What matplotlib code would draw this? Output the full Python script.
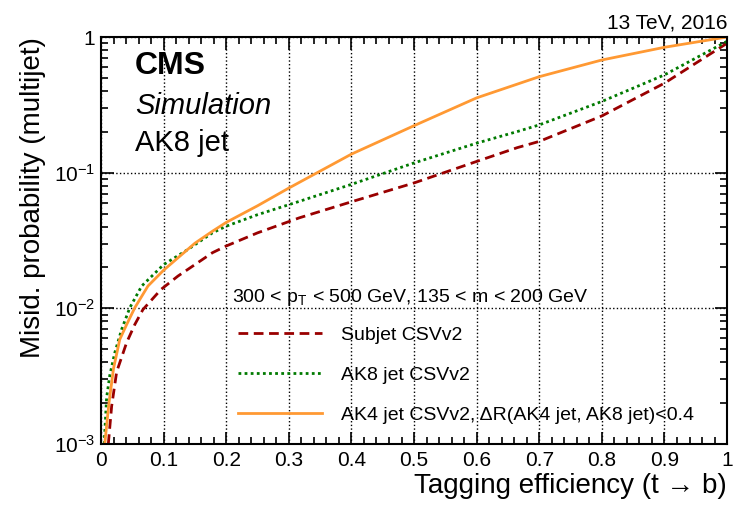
import matplotlib
matplotlib.use("Agg")
import matplotlib.pyplot as plt
from matplotlib.ticker import LogLocator, FixedFormatter, NullFormatter, FixedLocator, MultipleLocator

plt.rcParams['font.family'] = ['Liberation Sans', 'DejaVu Sans']
plt.rcParams['mathtext.fontset'] = 'custom'
plt.rcParams['mathtext.rm'] = 'Liberation Sans'
plt.rcParams['mathtext.it'] = 'Liberation Sans:italic'
plt.rcParams['mathtext.bf'] = 'Liberation Sans:bold'

# Subjet CSVv2
eff_subjet = [0.0117, 0.017, 0.025, 0.041, 0.054, 0.067, 0.096, 0.123, 0.15, 0.178, 0.2,
              0.25, 0.317, 0.4, 0.5, 0.6, 0.665, 0.7, 0.8, 0.9, 1.0]
mis_subjet = [0.001, 0.0019, 0.0034, 0.0056, 0.0076, 0.0098, 0.0138, 0.0173, 0.021, 0.0257, 0.0288,
              0.036, 0.0465, 0.061, 0.084, 0.121, 0.153, 0.17, 0.262, 0.457, 0.9]

# AK8 jet CSVv2
eff_ak8 = [0.005, 0.009, 0.014, 0.022, 0.033, 0.046, 0.065, 0.1, 0.139, 0.178, 0.2,
           0.25, 0.317, 0.4, 0.5, 0.6, 0.665, 0.7, 0.8, 0.9, 1.0]
mis_ak8 = [0.001, 0.0022, 0.0032, 0.0047, 0.007, 0.0101, 0.0146, 0.021, 0.0272, 0.036, 0.0403,
           0.049, 0.0615, 0.082, 0.118, 0.165, 0.201, 0.225, 0.335, 0.526, 0.93]

# AK4 jet CSVv2, dR(AK4 jet, AK8 jet)<0.4
eff_ak4 = [0.006, 0.0127, 0.02, 0.03, 0.041, 0.054, 0.075, 0.1, 0.15, 0.178, 0.2,
           0.25, 0.3, 0.4, 0.5, 0.6, 0.7, 0.8, 0.9, 1.0]
mis_ak4 = [0.001, 0.002, 0.0036, 0.0059, 0.0076, 0.0101, 0.0146, 0.0191, 0.0302, 0.037, 0.043,
           0.057, 0.077, 0.137, 0.222, 0.356, 0.51, 0.677, 0.84, 1.0]

labels = ["Subjet CSVv2", "AK8 jet CSVv2",
          "AK4 jet CSVv2, \u0394R(AK4 jet, AK8 jet)<0.4"]
x_ticks = [0, 0.1, 0.2, 0.3, 0.4, 0.5, 0.6, 0.7, 0.8, 0.9, 1.0]
x_ticklabels = ["0", "0.1", "0.2", "0.3", "0.4", "0.5", "0.6", "0.7", "0.8", "0.9", "1"]
y_ticks = [1e-3, 1e-2, 1e-1, 1]
y_ticklabels = ["$10^{-3}$", "$10^{-2}$", "$10^{-1}$", "1"]

fig = plt.figure(figsize=(7.34, 5.07), dpi=100)
ax = fig.add_axes([0.1376, 0.1243, 0.853, 0.8027])

ax.plot(eff_subjet, mis_subjet, color='#990000', lw=2, ls=(0, (3.5, 2)), label=labels[0])
ax.plot(eff_ak8, mis_ak8, color='#007a00', lw=2, ls=(0, (1, 1.2)), label=labels[1])
ax.plot(eff_ak4, mis_ak4, color='#ff9933', lw=2, ls='-', label=labels[2])

ax.set_xlim(0, 1)
ax.set_yscale('log')
ax.set_ylim(1e-3, 1)

ax.xaxis.set_major_locator(FixedLocator(x_ticks))
ax.xaxis.set_major_formatter(FixedFormatter(x_ticklabels))
ax.xaxis.set_minor_locator(MultipleLocator(0.02))
ax.yaxis.set_major_locator(FixedLocator(y_ticks))
ax.yaxis.set_major_formatter(FixedFormatter(y_ticklabels))
ax.yaxis.set_minor_locator(LogLocator(base=10, subs=range(2, 10)))
ax.yaxis.set_minor_formatter(NullFormatter())

ax.tick_params(which='both', direction='in', top=True, right=True, labelsize=15, width=1.2)
ax.tick_params(which='major', length=9)
ax.tick_params(which='minor', length=5)
ax.tick_params(axis='x', pad=5)
ax.tick_params(axis='y', pad=4)
for s in ax.spines.values():
    s.set_linewidth(1.5)

ax.grid(True, which='major', color='black', ls=':', lw=1)

ax.set_xlabel("Tagging efficiency (t \u2192 b)", fontsize=20, loc='right', labelpad=2)
ax.set_ylabel("Misid. probability (multijet)", fontsize=20, loc='top', labelpad=6)

ax.text(0.054, 0.965, "CMS", transform=ax.transAxes, fontsize=23, fontweight='bold', va='top')
ax.text(0.054, 0.865, "Simulation", transform=ax.transAxes, fontsize=21, style='italic', va='top')
ax.text(0.054, 0.775, "AK8 jet", transform=ax.transAxes, fontsize=21, va='top')
ax.text(1.0, 1.012, "13 TeV, 2016", transform=ax.transAxes, fontsize=15, ha='right', va='bottom')

ax.text(0.209, 0.361, "300 < p$_{\\mathrm{T}}$ < 500 GeV, 135 < m < 200 GeV",
        transform=ax.transAxes, fontsize=14, va='center')
ax.legend(loc='upper left', bbox_to_anchor=(0.219, 0.29), frameon=False, fontsize=14,
          borderpad=0, borderaxespad=0, handlelength=4.3, handletextpad=1.0, labelspacing=1.15)

fig.savefig("out.png", dpi=100)
